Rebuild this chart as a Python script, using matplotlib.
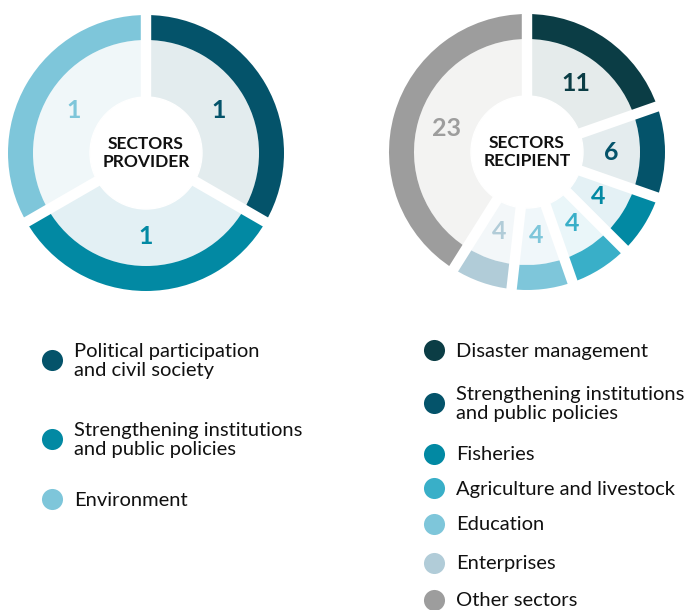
import numpy as np
import matplotlib.pyplot as plt
from matplotlib.patches import Circle

plt.rcParams['font.family'] = ['Lato', 'DejaVu Sans']

# provider donut
prov_labels = ["Political participation\nand civil society",
               "Strengthening institutions\nand public policies",
               "Environment"]
prov_values = [1, 1, 1]
prov_colors = ["#04536a", "#0289a3", "#7ec6da"]
prov_tints = ["#e3ecee", "#e3f0f4", "#f0f7f9"]

# recipient donut
rec_labels = ["Disaster management",
              "Strengthening institutions\nand public policies",
              "Fisheries", "Agriculture and livestock", "Education",
              "Enterprises", "Other sectors"]
rec_values = [11, 6, 4, 4, 4, 4, 23]
rec_colors = ["#0b3d45", "#04536a", "#0289a3", "#39afc8", "#7ec6da",
              "#b1ccd8", "#9d9d9d"]
rec_tints = ["#e5ebeb", "#e4ecee", "#e4f1f5", "#eaf6f9", "#f0f7fa",
             "#f3f7f9", "#f3f3f2"]

W, H = 684, 610
fig = plt.figure(figsize=(W / 100, H / 100), dpi=100)
ax = fig.add_axes([0, 0, 1, 1])


def donut(cx, cy, values, colors, tints, title):
    R, ring, hole = 138, 25, 56
    cy = H - cy
    ax.pie(values, colors=tints, radius=R - ring, center=(cx, cy),
           startangle=90, counterclock=False,
           wedgeprops=dict(width=R - ring - hole, linewidth=0))
    ax.pie(values, colors=colors, radius=R, center=(cx, cy),
           startangle=90, counterclock=False,
           wedgeprops=dict(width=ring, linewidth=0))
    total = sum(values)
    bounds = np.concatenate([[0], np.cumsum(values)]) / total
    for b in bounds[:-1]:
        th = np.deg2rad(90 - b * 360)
        ax.plot([cx, cx + (R + 5) * np.cos(th)], [cy, cy + (R + 5) * np.sin(th)],
                color="white", lw=7.5, solid_capstyle="butt", zorder=3)
    ax.add_patch(Circle((cx, cy), hole, color="white", zorder=4))
    for v, c, a, b in zip(values, colors, bounds[:-1], bounds[1:]):
        th = np.deg2rad(90 - (a + b) / 2 * 360)
        ax.text(cx + 84 * np.cos(th), cy + 84 * np.sin(th), str(v),
                color=c, fontsize=18, fontweight="bold",
                ha="center", va="center", zorder=5)
    ax.text(cx, cy, title, ha="center", va="center", fontsize=12.5,
            fontweight="bold", color="#111111", linespacing=1.15, zorder=5)


donut(146, 153, prov_values, prov_colors, prov_tints, "SECTORS\nPROVIDER")
donut(527, 152, rec_values, rec_colors, rec_tints, "SECTORS\nRECIPIENT")

# legends
prov_y = [361, 440, 500]
for lab, c, y in zip(prov_labels, prov_colors, prov_y):
    ax.scatter(52, H - y + 1, s=230, color=c, linewidth=0)
    ax.text(74, H - y, lab, va="center", ha="left", fontsize=14.5,
            color="#111111", linespacing=1.08)

rec_y = [351, 404, 455, 489, 525, 564, 601]
for lab, c, y in zip(rec_labels, rec_colors, rec_y):
    ax.scatter(434, H - y + 1, s=230, color=c, linewidth=0)
    ax.text(456, H - y, lab, va="center", ha="left", fontsize=14.5,
            color="#111111", linespacing=1.08)

ax.set_xlim(0, W)
ax.set_ylim(0, H)
ax.set_aspect("equal")
ax.axis("off")

fig.savefig("out.png", dpi=100)
